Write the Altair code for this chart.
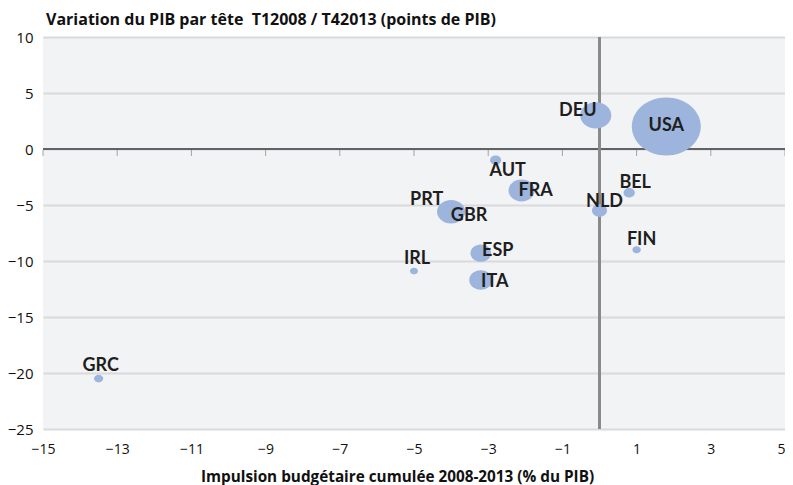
import altair as alt
import pandas as pd

# ---- data ----
pays = ["USA", "DEU", "AUT", "FRA", "BEL", "NLD", "PRT", "GBR", "FIN", "ESP", "IRL", "ITA", "GRC"]
impulsion = [1.8, -0.1, -2.8, -2.1, 0.8, 0.0, -4.2, -4.0, 1.0, -3.2, -5.0, -3.2, -13.5]
variation = [2.0, 3.0, -1.0, -3.7, -3.9, -5.5, -5.3, -5.6, -9.0, -9.3, -10.9, -11.7, -20.5]
taille = [16.8, 3.4, 0.43, 2.4, 0.45, 0.8, 0.4, 2.8, 0.25, 1.5, 0.23, 1.9, 0.3]

x_ticks = [-15, -13, -11, -9, -7, -5, -3, -1, 1, 3, 5]
y_ticks = [-25, -20, -15, -10, -5, 0, 5, 10]

# label offsets in pixels (style)
label_offsets = {
    "USA": (0, -1), "DEU": (-18, -4), "AUT": (12, 11), "FRA": (14, 1),
    "BEL": (6, -10), "NLD": (5, -9), "PRT": (-17, -8), "GBR": (18, 4),
    "FIN": (5, -10), "ESP": (17, -2), "IRL": (3, -12), "ITA": (14, 2),
    "GRC": (2, -13),
}

df = pd.DataFrame({"pays": pays, "impulsion": impulsion,
                   "variation": variation, "taille": taille})

FONT = "Open Sans"
LFONT = "Lato"
ELLIPSE = "M-1,0A1,0.84,0,1,1,1,0A1,0.84,0,1,1,-1,0Z"
W, H = 742, 392

xscale = alt.Scale(domain=[-15, 5], nice=False, zero=False, padding=0)
yscale = alt.Scale(domain=[-25, 10], nice=False, zero=False, padding=0)

xenc = alt.X("impulsion:Q", scale=xscale,
             axis=alt.Axis(values=x_ticks, grid=False, domain=False, ticks=False,
                           labelFlush=False,
                           labelAlign={"condition": {"test": "datum.value === 5", "value": "right"},
                                       "value": "center"},
                           labelPadding=13, labelFontSize=14, labelFont=FONT,
                           labelColor="#111111",
                           title="Impulsion budgétaire cumulée 2008-2013 (% du PIB)",
                           titleFont=FONT, titleFontSize=15.3, titleFontWeight="bold",
                           titleColor="#111111", titlePadding=13,
                           titleX=354, titleAlign="center"))
yenc = alt.Y("variation:Q", scale=yscale,
             axis=alt.Axis(values=y_ticks, grid=True, gridColor="#d9dadc", gridWidth=2,
                           domain=False, ticks=False, labelPadding=10,
                           labelFontSize=15, labelFont=FONT, labelColor="#111111",
                           title=None))

base = alt.Chart(df)

grid_layer = base.mark_point(opacity=0).encode(x=xenc, y=yenc)

hline = alt.Chart(df).mark_rule(color="#606266", strokeWidth=2).encode(
    y=alt.datum(0, scale=yscale), x=alt.value(0), x2=alt.value(W))
vline = alt.Chart(df).mark_rule(color="#8a8a8a", strokeWidth=2).encode(
    x=alt.datum(0, scale=xscale), y=alt.value(0), y2=alt.value(H))

ticks_df = pd.DataFrame({"t": x_ticks})
ticks = alt.Chart(ticks_df).mark_tick(orient="vertical", size=6, thickness=1,
                                       color="#808080", yOffset=4).encode(
    x=alt.X("t:Q", scale=xscale), y=alt.datum(0, scale=yscale))

bubbles = base.mark_point(shape=ELLIPSE, filled=True, fill="#9db4dc",
                          opacity=1, strokeWidth=0).encode(
    x=alt.X("impulsion:Q", scale=xscale),
    y=alt.Y("variation:Q", scale=yscale),
    size=alt.Size("taille:Q", scale=alt.Scale(domain=[0, 16.8], range=[0, 4761]),
                  legend=None),
    order=alt.Order("taille:Q", sort="descending"),
)

label_layers = []
for p in pays:
    dx, dy = label_offsets[p]
    label_layers.append(
        base.transform_filter(alt.datum.pays == p).mark_text(
            font=LFONT, fontSize=18, fontWeight="bold", color="#1e1e1e",
            align="center", baseline="middle", dx=dx, dy=dy).encode(
            x=alt.X("impulsion:Q", scale=xscale),
            y=alt.Y("variation:Q", scale=yscale),
            text="pays:N")
    )

chart = alt.layer(grid_layer, hline, vline, ticks, bubbles, *label_layers).properties(
    width=W, height=H,
    autosize="none",
    padding={"left": 35, "top": 29, "right": 0, "bottom": 56},
    title=alt.TitleParams(
        "Variation du PIB par tête\u00a0\u00a0T12008 / T42013 (points de PIB)",
        anchor="start", frame="group", font=FONT, fontSize=16, fontWeight="bold",
        color="#111111", offset=2, dx=3),
).configure_view(stroke=None, fill="#f2f3f5")

chart.save("out.html", embed_options={"renderer": "svg", "actions": False})
